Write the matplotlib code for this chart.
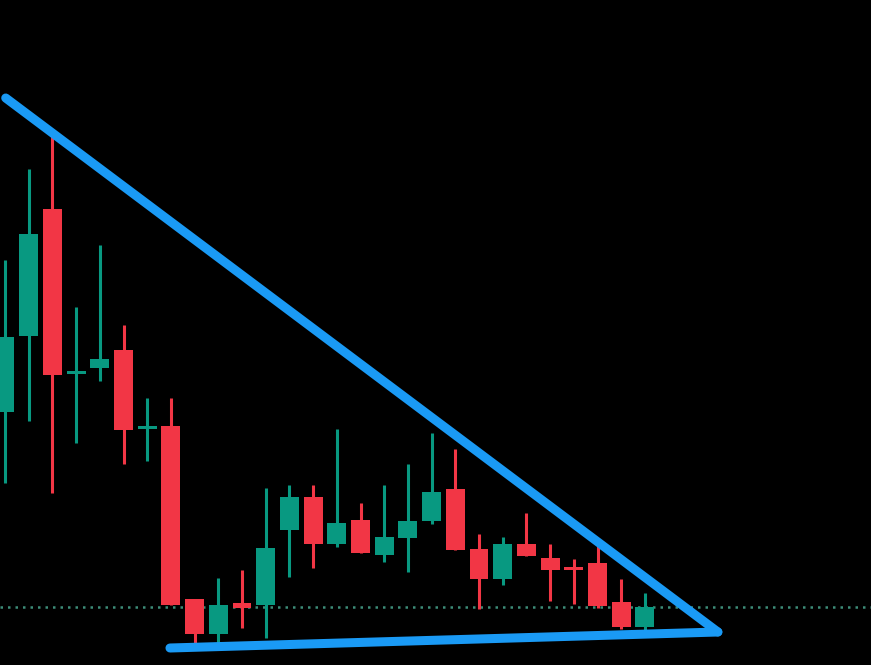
import numpy as np
import matplotlib
matplotlib.use("Agg")
import matplotlib.pyplot as plt

# candle data (price units), one entry per candle
opens  = [253, 329, 456, 291, 297, 315, 236, 239, 66, 31, 62, 60, 135, 168,
          121, 145, 110, 127, 144, 176, 116, 86, 121, 107, 98, 102, 63, 38]
closes = [328, 431, 290, 293, 306, 235, 239, 60, 31, 60, 57, 117, 168, 121,
          142, 112, 128, 144, 173, 115, 86, 121, 109, 95, 95, 59, 38, 58]
highs  = [405, 496, 532, 358, 420, 340, 267, 267, 66, 87, 95, 177, 180, 180,
          236, 162, 180, 201, 232, 216, 131, 128, 152, 121, 106, 127, 86, 72]
lows   = [182, 244, 172, 222, 284, 201, 204, 60, 22, 22, 37, 27, 88, 97,
          118, 112, 103, 93, 141, 115, 56, 80, 109, 64, 61, 57, 36, 28]

# trend lines: (candle index, price)
upper_x = [0.03, 30.08]
upper_y = [567, 33]
lower_x = [6.96, 30.08]
lower_y = [17, 33]
level = 58

green = "#089981"
red = "#f23645"
blue = "#1a9af5"

fig = plt.figure(figsize=(8.71, 6.65), dpi=100, facecolor="black")
ax = fig.add_axes([0, 0, 1, 1])
ax.set_facecolor("black")

x = np.arange(len(opens))
o = np.array(opens)
c = np.array(closes)
cols = [green if cc >= oo else red for oo, cc in zip(o, c)]

ax.vlines(x, lows, highs, colors=cols, linewidth=2.2, zorder=2)
bottoms = np.minimum(o, c)
heights = np.maximum(np.abs(c - o), 3)
ax.bar(x, heights, bottom=bottoms, width=0.8, color=cols, zorder=3)

ax.axhline(level, color="#3d8c78", linestyle=(0, (1, 2)), linewidth=1.8, zorder=1)

ax.plot(upper_x, upper_y, color=blue, linewidth=6.5, solid_capstyle="round", zorder=4)
ax.plot(lower_x, lower_y, color=blue, linewidth=6.5, solid_capstyle="round", zorder=4)

ax.set_xlim(-0.211, 36.54)
ax.set_ylim(0, 665)
ax.axis("off")

fig.savefig("out.png", dpi=100, facecolor="black")
